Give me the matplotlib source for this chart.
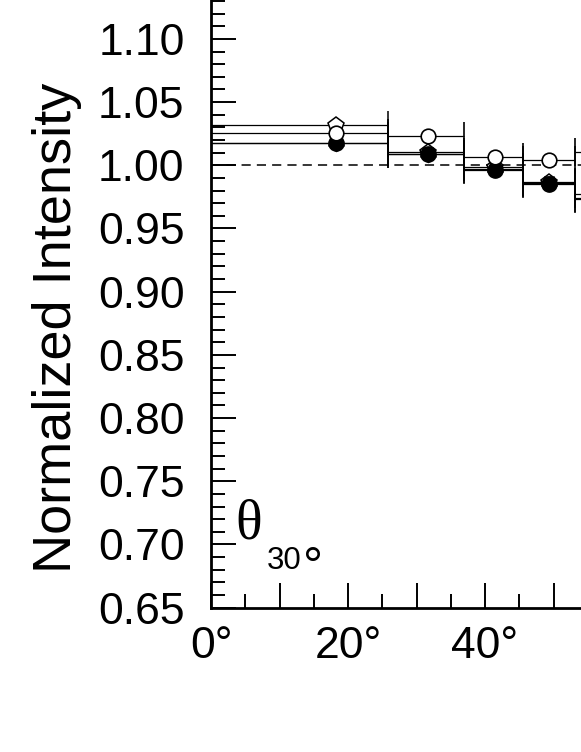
import matplotlib
matplotlib.use("Agg")
import matplotlib.pyplot as plt
from matplotlib.ticker import MultipleLocator, FormatStrFormatter, FuncFormatter

# angular bins (deg): left/right edges and mean position of points in each bin
bin_lo = [0.0, 25.8, 36.9, 45.6, 53.1]
bin_hi = [25.8, 36.9, 45.6, 53.1, 61.0]
x_pts = [18.2, 31.7, 41.5, 49.4, 57.0]

open_circle = [1.0256, 1.0229, 1.0066, 1.0045, 1.0105]
open_pent = [1.0316, 1.0105, 0.9987, 0.9870, 0.9776]
filled_circle = [1.0178, 1.0087, 0.9966, 0.9855, 0.9737]
filled_pent = [1.0176, 1.0092, 0.9970, 0.9860, 0.9745]

plt.rcParams['font.family'] = ['Liberation Sans', 'DejaVu Sans']

fig = plt.figure(figsize=(5.81, 7.52), dpi=100)
ax = fig.add_axes([211 / 581, 144.3 / 752, 376.75 / 581, 619.4 / 752])

xerr = [[x - lo for x, lo in zip(x_pts, bin_lo)],
        [hi - x for x, hi in zip(x_pts, bin_hi)]]

eb = dict(xerr=xerr, ls='none', ecolor='black', elinewidth=0.9,
          capsize=10, capthick=1.1)

ax.errorbar(x_pts, open_pent, fmt='p', ms=11.5, mfc='white', mec='black', mew=1.1, **eb)
ax.errorbar(x_pts, filled_circle, fmt='o', ms=11, mfc='black', mec='black', **eb)
ax.errorbar(x_pts, filled_pent, marker=(5, 0, 180), ms=11.5, mfc='black', mec='black', **eb)
ax.errorbar(x_pts, open_circle, fmt='o', ms=10.5, mfc='white', mec='black', mew=1.2, **eb)

ax.axhline(1.0, color='black', lw=1.1, ls=(0, (6, 4)), zorder=0)

ax.set_xlim(0, 55)
ax.set_ylim(0.65, 1.14)

ax.xaxis.set_major_locator(MultipleLocator(10))
ax.xaxis.set_minor_locator(MultipleLocator(5))
ax.xaxis.set_major_formatter(FuncFormatter(
    lambda v, p: f"{int(round(v))}°" if int(round(v)) % 20 == 0 else ""))
ax.yaxis.set_major_locator(MultipleLocator(0.05))
ax.yaxis.set_minor_locator(MultipleLocator(0.01))
ax.yaxis.set_major_formatter(FormatStrFormatter('%.2f'))

ax.tick_params(which='both', direction='in', top=False, right=False, width=1.4)
ax.tick_params(which='major', length=18, labelsize=32)
ax.tick_params(axis='y', which='major', pad=19)
ax.tick_params(axis='x', which='major', pad=13)
ax.tick_params(which='minor', length=10)

for s in ['top', 'right']:
    ax.spines[s].set_visible(False)
for s in ['left', 'bottom']:
    ax.spines[s].set_linewidth(2.0)

ax.set_ylabel('Normalized Intensity', fontsize=39)
ax.yaxis.set_label_coords(-0.343, 0.4526)

# panel label: theta with subscript 30 degrees
ax.text(3.6, 0.7049, 'θ', fontsize=40, family=['Liberation Serif', 'DejaVu Serif'],
        ha='left', va='baseline')
ax.text(8.1, 0.6804, '30', fontsize=22.5, ha='left', va='baseline')
ax.text(13.4, 0.6700, '°', fontsize=36, ha='left', va='baseline')

fig.savefig('out.png', dpi=100)
